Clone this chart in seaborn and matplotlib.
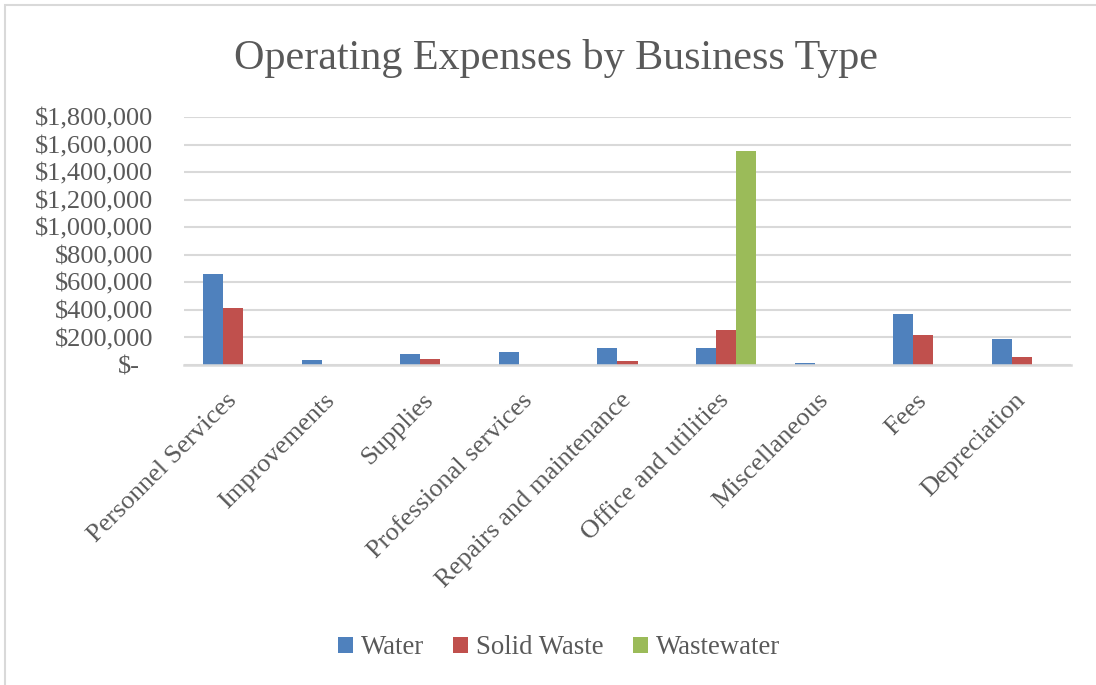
import matplotlib
matplotlib.use("Agg")
import matplotlib.pyplot as plt
from matplotlib.patches import Rectangle, Patch
from matplotlib.transforms import ScaledTranslation
import seaborn as sns
import pandas as pd

categories = ["Personnel Services", "Improvements", "Supplies", "Professional services",
              "Repairs and maintenance", "Office and utilities", "Miscellaneous", "Fees",
              "Depreciation"]
water = [664000, 36000, 80000, 94000, 121000, 126000, 12000, 370000, 187000]
solid_waste = [414000, 0, 40000, 3000, 27000, 252000, 0, 216000, 58000]
wastewater = [0, 0, 0, 0, 0, 1551000, 0, 0, 0]
series_names = ["Water", "Solid Waste", "Wastewater"]
series_colors = ["#4f81bd", "#c0504d", "#9bbb59"]
y_ticks = [0, 200000, 400000, 600000, 800000, 1000000, 1200000, 1400000, 1600000, 1800000]

df = pd.DataFrame({
    "Category": categories * 3,
    "Series": [series_names[0]] * 9 + [series_names[1]] * 9 + [series_names[2]] * 9,
    "Amount": water + solid_waste + wastewater,
})

sns.set_theme(style="white")
plt.rcParams["font.family"] = ["Liberation Serif", "DejaVu Serif"]
text_color = "#595959"
grid_color = "#d9d9d9"

fig = plt.figure(figsize=(10.96, 6.85), dpi=100)
ax = fig.add_axes([184 / 1096, 1 - 365 / 685, (1071 - 184) / 1096, (365 - 117) / 685])

sns.barplot(data=df, x="Category", y="Amount", hue="Series", order=categories,
            hue_order=series_names, palette=series_colors, width=0.61, gap=0,
            saturation=1, errorbar=None, edgecolor="none", legend=False, ax=ax)

ax.set_ylim(0, 1800000)
ax.set_xlim(-0.5, len(categories) - 0.5)
ax.set_yticks(y_ticks)
ax.set_yticklabels(["$-" if v == 0 else f"${v:,.0f}" for v in y_ticks])
ax.yaxis.grid(True, color=grid_color, linewidth=1.5)
ax.set_axisbelow(True)
for side in ["top", "right", "left"]:
    ax.spines[side].set_visible(False)
ax.spines["bottom"].set_color(grid_color)
ax.spines["bottom"].set_linewidth(1.8)
ax.set_xlabel("")
ax.set_ylabel("")

ax.tick_params(axis="y", length=0, pad=22, labelsize=19, labelcolor=text_color)
ax.tick_params(axis="x", length=0, pad=23, labelsize=19, labelcolor=text_color)
for lbl in ax.get_xticklabels():
    lbl.set_rotation(45)
    lbl.set_ha("right")
    lbl.set_va("center")
    lbl.set_rotation_mode("anchor")

# accounting-style zero label sits left of the digit column
zero_lbl = ax.get_yticklabels()[0]
zero_lbl.set_transform(zero_lbl.get_transform() + ScaledTranslation(-0.14, 0, fig.dpi_scale_trans))

fig.text(0.507, 1 - 58 / 685, "Operating Expenses by Business Type", ha="center", va="center",
         fontsize=30.3, color=text_color)

handles = [Patch(facecolor=c, edgecolor="none", label=n) for c, n in zip(series_colors, series_names)]
fig.legend(handles=handles, loc="center", bbox_to_anchor=(0.510, 1 - 648 / 685), ncol=3,
           frameon=False, fontsize=19.3, labelcolor=text_color, handlelength=0.55,
           handleheight=0.55, handletextpad=0.3, columnspacing=1.1)

# chart area border
fig.patches.append(Rectangle((5 / 1096, -0.1), 1.2, 1.1 - 5 / 685, transform=fig.transFigure,
                             fill=False, edgecolor=grid_color, linewidth=1.5))

fig.savefig("out.png", dpi=100)
